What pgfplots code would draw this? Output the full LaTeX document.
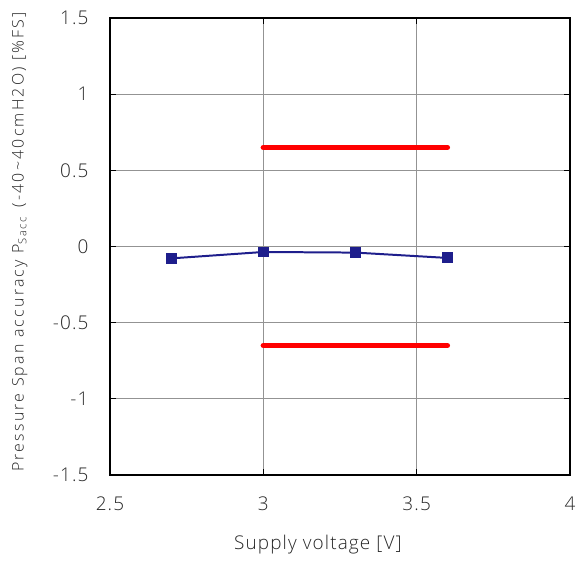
\documentclass[border=0pt]{standalone}
\usepackage{fontspec}
\setmainfont{Open Sans}[UprightFont=* Light]
\usepackage{pgfplots}
\pgfplotsset{compat=1.18}
\definecolor{lineblue}{RGB}{30,30,140}
\begin{document}
\begin{tikzpicture}
\path[use as bounding box] (-110bp,-86bp) rectangle (466bp,475bp);
\begin{axis}[
  at={(0,0)}, anchor=south west,
  scale only axis, width=460bp, height=457bp,
  xmin=2.5, xmax=4, ymin=-1.5, ymax=1.5,
  xtick={2.5,3,3.5,4}, ytick={-1.5,-1,-0.5,0,0.5,1,1.5},
  grid=major, major grid style={gray!85, line width=1.2pt},
  axis line style={black, line width=1.4pt},
  tick style={black, line width=1pt}, tick align=inside,
  major tick length=6bp,
  /pgf/number format/assume math mode=true,
  ticklabel style={font=\fontsize{19}{19}\selectfont\addfontfeatures{LetterSpace=6}, color=black!85},
  yticklabel style={xshift=-18bp},
  xticklabel style={yshift=-18bp},
  xlabel={Supply voltage [V]},
  xlabel style={font=\fontsize{19}{20}\selectfont\addfontfeatures{LetterSpace=6}, color=black!85,
    at={(axis description cs:0.452,-0.153)}, anchor=center},
  ylabel={Pressure Span accuracy P\textsubscript{Sacc}\, (-40\textasciitilde40cmH2O) [\%FS]},
  ylabel style={font=\fontsize{16}{16}\selectfont\addfontfeatures{LetterSpace=14}, color=black!85,
    at={(axis description cs:-0.196,0.51)}, anchor=center},
]
\addplot[red, line width=5.5pt, line cap=round, no marks] coordinates {(3,0.65) (3.6,0.65)};
\addplot[red, line width=5.5pt, line cap=round, no marks] coordinates {(3,-0.65) (3.6,-0.65)};
\addplot[lineblue, line width=2pt, mark=square*, mark size=4.5pt, mark options={fill=lineblue}] coordinates {
(2.7,-0.078) (3.0,-0.036) (3.3,-0.040) (3.6,-0.075)};
\end{axis}
\end{tikzpicture}
\end{document}
